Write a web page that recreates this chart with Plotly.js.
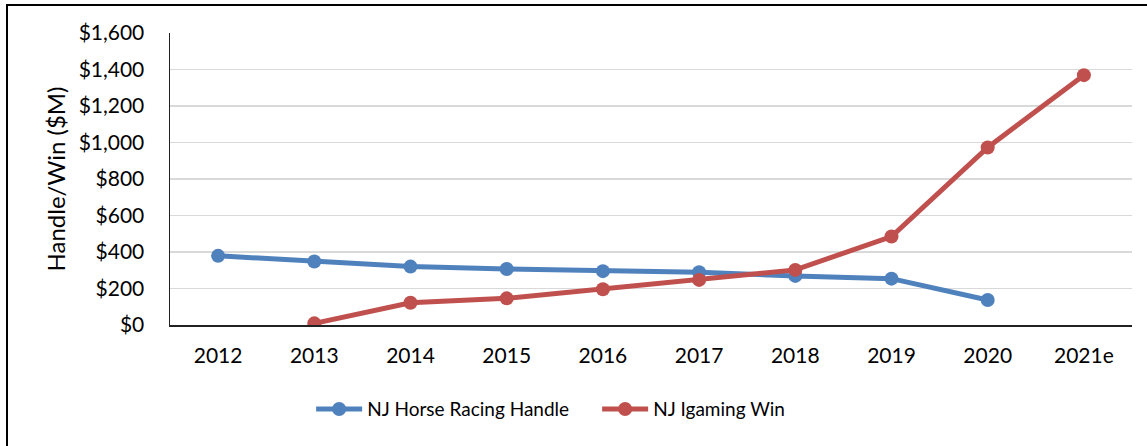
<!DOCTYPE html>
<html>
<head>
<meta charset="utf-8">
<script src="https://cdn.plot.ly/plotly-3.0.1.min.js"></script>
<style>
html,body{margin:0;padding:0;background:#fff;overflow:hidden;}
#wrap{position:relative;width:1147px;height:446px;overflow:hidden;}
#chart{width:1147px;height:446px;}
#frame{position:absolute;left:6px;top:4px;width:1160px;height:460px;border:2px solid #000;pointer-events:none;box-sizing:border-box;}
</style>
</head>
<body>
<div id="wrap"><div id="chart"></div><div id="frame"></div></div>
<script>
const years = ['2012','2013','2014','2015','2016','2017','2018','2019','2020','2021e'];
const horseRacingHandle = [379, 348, 320, 307, 295, 289, 269, 254, 137, null];
const igamingWin = [null, 9, 122, 146, 196, 247, 302, 485, 973, 1369];
const yTickVals = [0, 200, 400, 600, 800, 1000, 1200, 1400, 1600];
const yTickText = ['$0','$200','$400','$600','$800','$1,000','$1,200','$1,400','$1,600'];

const fam = 'Lato, "Open Sans", sans-serif';
const tickFont = {family: fam, color: '#000', size: 21};
const titleFont = {family: fam, color: '#000', size: 24};
const legendFont = {family: fam, color: '#000', size: 19};

const traces = [
  {x: years, y: horseRacingHandle, name: 'NJ Horse Racing Handle', type: 'scatter', mode: 'lines+markers',
   line: {color: '#4F81BD', width: 5}, marker: {color: '#4F81BD', size: 14}, connectgaps: false},
  {x: years, y: igamingWin, name: 'NJ Igaming Win', type: 'scatter', mode: 'lines+markers',
   line: {color: '#C0504D', width: 5}, marker: {color: '#C0504D', size: 14}, connectgaps: false}
];

const layout = {
  width: 1147, height: 446,
  margin: {l: 170, r: 15, t: 33, b: 121, autoexpand: false},
  paper_bgcolor: '#fff', plot_bgcolor: '#fff',
  font: tickFont,
  showlegend: true,
  legend: {orientation: 'h', x: 0.444, xanchor: 'center', y: -0.288, yanchor: 'middle',
           font: legendFont, itemwidth: 46, entrywidth: 225},
  xaxis: {type: 'category', range: [-0.5, 9.5], showgrid: false, showline: true, linecolor: '#222', linewidth: 1.5,
          ticks: 'outside', ticklen: 11, tickcolor: 'rgba(0,0,0,0)', tickfont: tickFont,
          zeroline: false, fixedrange: true, automargin: false},
  yaxis: {range: [0, 1600], tickvals: yTickVals, ticktext: yTickText, showgrid: true,
          gridcolor: '#d9d9d9', gridwidth: 1.5, showline: true, linecolor: '#222', linewidth: 1.5,
          ticks: 'outside', ticklen: 20, tickcolor: 'rgba(0,0,0,0)', tickfont: tickFont,
          zeroline: false, automargin: false,
          title: {text: 'Handle/Win ($M)', font: titleFont, standoff: 6}}
};

Plotly.newPlot('chart', traces, layout, {displayModeBar: false, staticPlot: true});
</script>
</body>
</html>
